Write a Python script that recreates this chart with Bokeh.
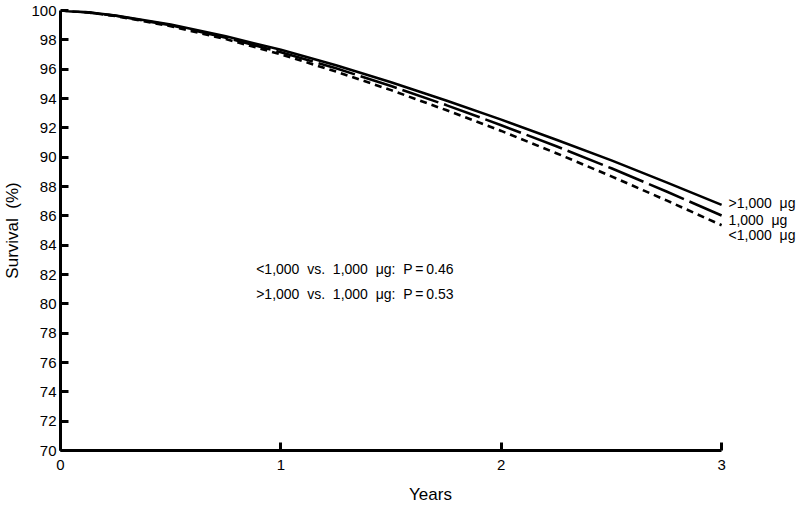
from bokeh.plotting import figure
from bokeh.models import Range1d, FixedTicker, Label
from bokeh.embed import file_html
from bokeh.resources import INLINE

years = [0, 0.125, 0.25, 0.5, 0.75, 1.0, 1.25, 1.5, 1.75, 2.0, 2.25, 2.5, 2.75, 3.0]
surv_gt1000 = [100, 99.88, 99.66, 99.04, 98.24, 97.32, 96.26, 95.11, 93.87, 92.56, 91.19, 89.78, 88.28, 86.75]
surv_eq1000 = [100, 99.87, 99.64, 98.99, 98.15, 97.16, 96.06, 94.85, 93.55, 92.18, 90.74, 89.24, 87.66, 86.02]
surv_lt1000 = [100, 99.87, 99.62, 98.93, 98.05, 97.01, 95.84, 94.57, 93.21, 91.79, 90.27, 88.69, 87.05, 85.36]

series_labels = [">1,000\u00a0\u00a0\u03bcg", "1,000\u00a0\u00a0\u03bcg", "<1,000\u00a0\u00a0\u03bcg"]
label_y = [86.86, 85.70, 84.70]
annotations = ["<1,000\u00a0\u00a0vs.\u00a0\u00a01,000\u00a0\u00a0\u03bcg:\u00a0\u00a0P\u2009=\u20090.46",
               ">1,000\u00a0\u00a0vs.\u00a0\u00a01,000\u00a0\u00a0\u03bcg:\u00a0\u00a0P\u2009=\u20090.53"]
annot_y = [82.4, 80.7]
x_ticks = [0, 1, 2, 3]
y_ticks = list(range(70, 101, 2))

FONT = "Liberation Sans"
X_END = 3.358

p = figure(width=800, height=507, output_backend="svg", toolbar_location=None,
           x_range=Range1d(0, X_END), y_range=Range1d(70, 100),
           min_border_left=59, min_border_right=0, min_border_top=10, min_border_bottom=57)
p.outline_line_color = None
p.xgrid.visible = False
p.ygrid.visible = False
p.background_fill_color = "white"

p.line(years, surv_gt1000, line_color="black", line_width=2.6)
p.line(years, surv_eq1000, line_color="black", line_width=2.6, line_dash="38 6")
p.line(years, surv_lt1000, line_color="black", line_width=2.6, line_dash="7 5")

for ax in (p.xaxis[0], p.yaxis[0]):
    ax.axis_line_width = 3
    ax.axis_line_color = "black"
    ax.major_tick_line_width = 3
    ax.major_tick_line_color = "black"
    ax.major_tick_in = 8
    ax.major_tick_out = 0
    ax.minor_tick_line_color = None
    ax.major_label_text_font = FONT
    ax.major_label_text_font_size = "15px"
    ax.major_label_text_color = "black"
    ax.axis_label_text_font = FONT
    ax.axis_label_text_font_size = "17px"
    ax.axis_label_text_font_style = "normal"
    ax.axis_label_text_color = "black"

p.xaxis[0].ticker = FixedTicker(ticks=x_ticks)
p.xaxis[0].bounds = (0, 3)
p.yaxis[0].ticker = FixedTicker(ticks=y_ticks)
p.xaxis[0].axis_label = "Years"
p.yaxis[0].axis_label = "Survival\u00a0\u00a0(%)"
p.xaxis[0].major_label_standoff = 9
p.xaxis[0].axis_label_standoff = 12
p.yaxis[0].major_label_standoff = 4
p.yaxis[0].axis_label_standoff = 6

for txt, yv in zip(series_labels, label_y):
    p.add_layout(Label(x=3, y=yv, text=txt, x_offset=7, text_font=FONT,
                       text_font_size="14px", text_baseline="middle", text_color="black"))

for txt, yv in zip(annotations, annot_y):
    p.add_layout(Label(x=0.888, y=yv, text=txt, text_font=FONT,
                       text_font_size="14px", text_baseline="middle", text_color="black"))

open("out.html", "w").write(file_html(p, INLINE))
